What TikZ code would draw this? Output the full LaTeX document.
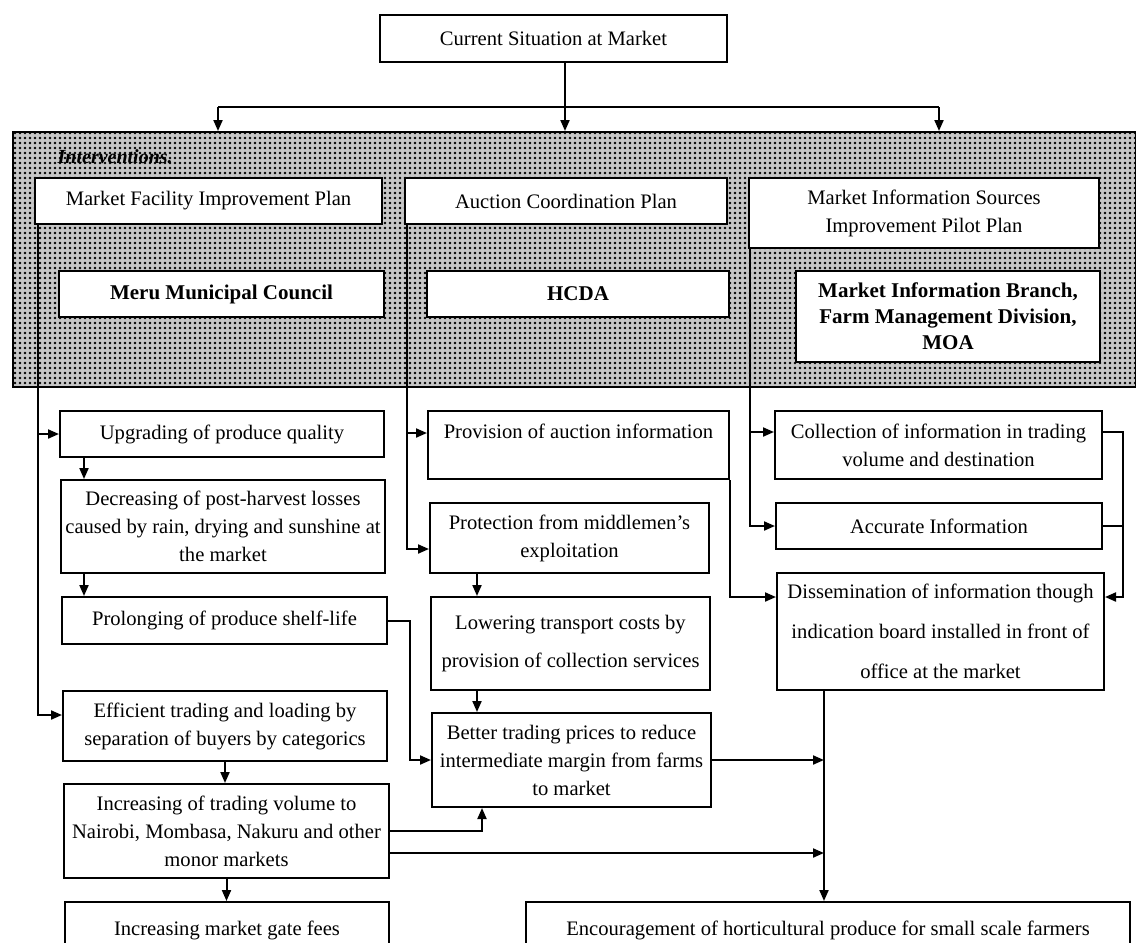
\documentclass[tikz,border=0pt]{standalone}
\usepackage{fontspec}
\setmainfont{Liberation Serif}
\usetikzlibrary{arrows.meta,patterns.meta}

\begin{document}
\begin{tikzpicture}[
    x=0.5pt, y=-0.5pt,
    line width=1pt,
    box/.style={
        rectangle,
        draw,
        fill=white,
        align=center,
        inner sep=0.5pt,
        font=\fontsize{10.3}{14}\selectfont
    },
    org/.style={
        box,
        font=\fontsize{10.5}{13}\selectfont\bfseries
    },
    band/.style={
        rectangle,
        draw,
        preaction={fill=gray!45},
        pattern={Dots[distance=2.5pt,radius=0.7pt]},
        pattern color=black
    },
    link/.style={
        -{Triangle[length=5.5pt,width=4.5pt]}
    }
]
\useasboundingbox (0,0) rectangle (1136,943);
\clip (0,0) rectangle (1136,943);

% Top
\node[box, minimum width=173.5pt, minimum height=23.5pt] (current) at (553.5,38.5) {Current Situation at Market};

% Interventions band
\node[band, minimum width=561.5pt, minimum height=127.5pt] (band) at (574.5,259.5) {};
\node[anchor=west, font=\fontsize{10}{12}\selectfont\bfseries\itshape] (intv) at (50,157) {Interventions.};

% Plans
\node[box, minimum width=173.5pt, minimum height=23pt] (mfplan) at (208.5,201) {Market Facility Improvement Plan};
\node[box, minimum width=161pt, minimum height=23pt] (acplan) at (566,201) {Auction Coordination Plan};
\node[box, minimum width=175pt, minimum height=35pt] (misplan) at (924,213) {Market Information Sources\\Improvement Pilot Plan};

% Implementing bodies
\node[org, minimum width=162.5pt, minimum height=23pt] (meru) at (221.5,294) {Meru Municipal Council};
\node[org, minimum width=151pt, minimum height=23pt] (hcda) at (578,294) {HCDA};
\node[org, minimum width=152pt, minimum height=45.5pt] (mib) at (948,316.5) {Market Information Branch,\\Farm Management Division,\\MOA};

% Left column
\node[box, minimum width=162pt, minimum height=23pt] (upgrade) at (222,434) {Upgrading of produce quality};
\node[box, minimum width=162pt, minimum height=46.5pt] (postharv) at (223,526.5) {Decreasing of post-harvest losses\\caused by rain, drying and sunshine at\\the market};
\node[box, minimum width=162.5pt, minimum height=23.5pt] (shelf) at (224.5,620.5) {Prolonging of produce shelf-life};
\node[box, minimum width=162pt, minimum height=35pt] (efficient) at (225,726) {Efficient trading and loading by\\separation of buyers by categorics};
\node[box, minimum width=162.5pt, minimum height=47pt] (volume) at (226.5,831) {Increasing of trading volume to\\Nairobi, Mombasa, Nakuru and other\\monor markets};
\node[box, minimum width=162pt, minimum height=28pt] (gatefee) at (227,930) {Increasing market gate fees};

% Middle column
\node[box, minimum width=150.5pt, minimum height=34pt] (auctinfo) at (578.5,445) {Provision of auction information\\\mbox{}};
\node[box, minimum width=139.5pt, minimum height=35pt] (middlemen) at (569.5,538) {Protection from middlemen’s\\exploitation};
\node[box, minimum width=139.5pt, minimum height=46.5pt] (transport) at (570.5,643.5) {Lowering transport costs by\\[5pt]provision of collection services};
\node[box, minimum width=139.5pt, minimum height=47pt] (prices) at (571.5,760) {Better trading prices to reduce\\intermediate margin from farms\\to market};

% Right column
\node[box, minimum width=163.5pt, minimum height=34pt] (collect) at (938.5,445) {Collection of information in trading\\volume and destination};
\node[box, minimum width=163pt, minimum height=23pt] (accurate) at (939,526) {Accurate Information};
\node[box, minimum width=163.5pt, minimum height=58.5pt] (dissem) at (940.5,631.5) {Dissemination of information though\\[6pt]indication board installed in front of\\[6pt]office at the market};

% Outcome
\node[box, minimum width=302pt, minimum height=28pt] (encourage) at (828,930) {Encouragement of horticultural produce for small scale farmers};

% From current situation to the plans
\coordinate (split) at (565,107);
\coordinate (dropL) at (218,107);
\coordinate (dropR) at (939,107);
\draw[link] (current.south -| split) -- (split |- band.north);
\draw (dropL) -- (dropR);
\draw[link] (dropL) -- (dropL |- band.north);
\draw[link] (dropR) -- (dropR |- band.north);

% Spines out of the plans
\coordinate (spineL) at (38,0);
\coordinate (spineM) at (407,0);
\coordinate (spineR) at (750,0);
\coordinate (auctin) at ([yshift=6pt]auctinfo.west);
\coordinate (collin) at ([yshift=6.5pt]collect.west);
\draw[link] (spineL |- mfplan.south) |- ([yshift=5.5pt]efficient.west);
\draw[link] (spineL |- upgrade.west) -- (upgrade.west);
\draw[link] (spineM |- acplan.south) |- ([yshift=-5.5pt]middlemen.west);
\draw[link] (spineM |- auctin) -- (auctin);
\draw[link] (spineR |- misplan.south) |- (accurate.west);
\draw[link] (spineR |- collin) -- (collin);

% Left column chain
\coordinate (chainL) at (84,0);
\draw[link] (chainL |- upgrade.south) -- (chainL |- postharv.north);
\draw[link] (chainL |- postharv.south) -- (chainL |- shelf.north);
\draw[link] (efficient.south) -- (efficient.south |- volume.north);
\draw[link] (volume.south) -- (volume.south |- gatefee.north);

% Middle column chain
\coordinate (chainM) at (477,0);
\coordinate (upin) at (482,0);
\draw[link] (chainM |- middlemen.south) -- (chainM |- transport.north);
\draw[link] (chainM |- transport.south) -- (chainM |- prices.north);
\draw[link] (shelf.east) -- ++(11pt,0) |- (prices.west);
\draw[link] (volume.east) -| (upin |- prices.south);

% Right column
\coordinate (trunk) at (824,0);
\coordinate (rim) at (1123,0);
\coordinate (dissinL) at ([yshift=17.25pt]dissem.west);
\coordinate (dissinR) at ([yshift=17.25pt]dissem.east);
\coordinate (collout) at ([yshift=6.5pt]collect.east);
\draw[link] (auctinfo.south east) |- (dissinL);
\draw[link] (collout) -| (rim |- dissinR) -- (dissinR);
\draw (accurate.east) -- (accurate.east -| rim);

% Into the outcome
\coordinate (volout) at ([yshift=-11pt]volume.east);
\draw[link] (trunk |- dissem.south) -- (trunk |- encourage.north);
\draw[link] (prices.east) -- (prices.east -| trunk);
\draw[link] (volout) -- (volout -| trunk);

\end{tikzpicture}
\end{document}
